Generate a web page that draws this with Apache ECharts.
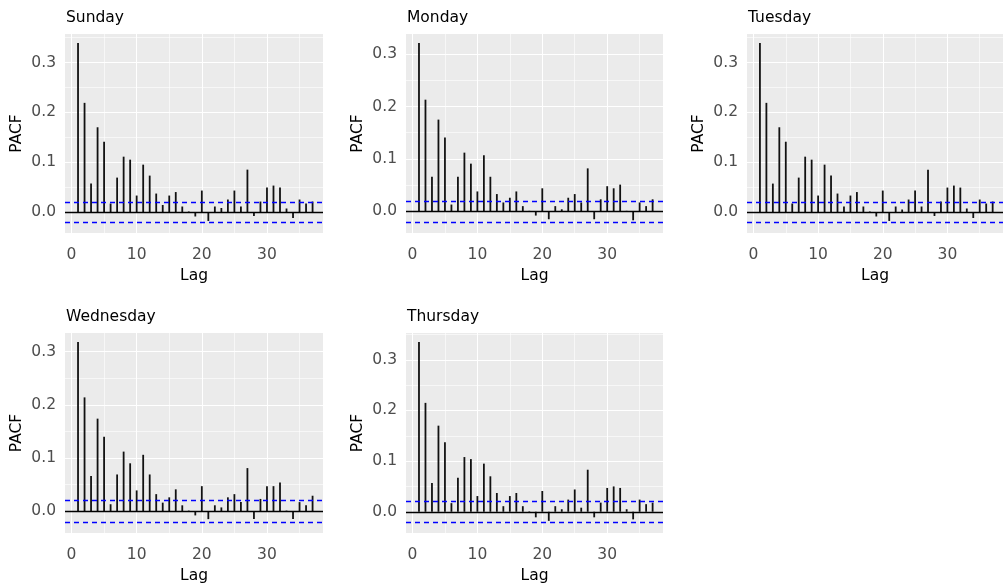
<!DOCTYPE html>
<html>
<head>
<meta charset="UTF-8">
<script type="text/javascript" src="https://cdn.jsdelivr.net/npm/echarts@6/dist/echarts.min.js"></script>
<title>PACF</title>
<style>
	body{margin:0;background:#fff;}
	#main{width:1004px;height:585px;}
</style>
</head>
<body>
<div id="main"></div>
<script type="text/javascript">
	var days = ['Sunday', 'Monday', 'Tuesday', 'Wednesday', 'Thursday'];
	var lags = [1,2,3,4,5,6,7,8,9,10,11,12,13,14,15,16,17,18,19,20,21,22,23,24,25,26,27,28,29,30,31,32,33,34,35,36,37];

	var sunday = [0.339,0.219,0.057,0.170,0.141,0.017,0.069,0.111,0.105,0.033,0.095,0.073,0.037,0.014,0.033,0.040,0.011,0.001,-0.009,0.043,
		-0.018,0.011,0.008,0.025,0.043,0.011,0.085,-0.008,0.021,0.049,0.053,0.049,0.007,-0.012,0.025,0.017,0.021];
	var monday = [0.321,0.213,0.066,0.175,0.141,0.013,0.066,0.112,0.091,0.038,0.107,0.066,0.033,0.017,0.026,0.038,0.010,0.001,-0.008,0.044,
		-0.015,0.010,0.004,0.026,0.033,0.017,0.082,-0.015,0.023,0.048,0.044,0.051,0.001,-0.017,0.017,0.010,0.023];
	var tuesday = [0.339,0.219,0.057,0.170,0.141,0.017,0.069,0.111,0.105,0.033,0.095,0.073,0.037,0.011,0.033,0.040,0.011,0.001,-0.009,0.043,
		-0.018,0.011,0.005,0.025,0.043,0.011,0.085,-0.008,0.021,0.049,0.053,0.049,0.007,-0.012,0.025,0.017,0.021];
	var wednesday = [0.318,0.214,0.066,0.174,0.140,0.013,0.069,0.112,0.090,0.039,0.106,0.069,0.032,0.016,0.026,0.041,0.011,0.001,-0.008,0.047,
		-0.015,0.011,0.007,0.026,0.032,0.017,0.081,-0.015,0.023,0.047,0.047,0.054,0.001,-0.015,0.017,0.011,0.029];
	var thursday = [0.335,0.215,0.057,0.170,0.137,0.017,0.067,0.108,0.104,0.031,0.095,0.070,0.037,0.011,0.031,0.037,0.011,0.001,-0.011,0.041,
		-0.018,0.011,0.005,0.024,0.044,0.008,0.083,-0.011,0.018,0.047,0.050,0.047,0.005,-0.015,0.024,0.015,0.018];

	var ciBound = 0.024;
	var xTicks = [0, 10, 20, 30];
	var xMinor = [5, 15, 25, 35];
	var yTicks = [0, 0.1, 0.2, 0.3];
	var yMinor = [0.05, 0.15, 0.25, 0.35];

	var allSeries = [sunday, monday, tuesday, wednesday, thursday];
	// left, top, width, height of each panel
	var panels = [[65,34,258,199],[406,34,257,199],[747,34,256,199],[65,333,258,200],[406,333,257,200]];
	var xMin = -1, xMax = 38.6;

	var font = 'DejaVu Sans';
	var fs = 15.5;
	var option = {
		animation: false,
		title: [],
		grid: [],
		xAxis: [],
		yAxis: [],
		series: []
	};

	for (var i = 0; i < days.length; i++) {
		var vals = allSeries[i];
		var p = panels[i];
		var lo = Math.min(Math.min.apply(null, vals), -ciBound);
		var hi = Math.max(Math.max.apply(null, vals), ciBound);
		var pad = (hi - lo) * 0.05;
		var yMin = lo - pad, yMax = hi + pad;

		option.title.push({
			text: days[i],
			left: p[0] + 1,
			top: p[1] - 24,
			padding: 0,
			textStyle: {fontFamily: font, fontSize: fs, fontWeight: 'normal', color: '#000'}
		});
		option.grid.push({
			left: p[0], top: p[1], width: p[2], height: p[3],
			show: true, backgroundColor: '#EBEBEB', borderWidth: 0
		});
		option.xAxis.push({
			type: 'value', gridIndex: i, min: xMin, max: xMax,
			name: 'Lag', nameLocation: 'middle', nameGap: 35,
			nameTextStyle: {fontFamily: font, fontSize: fs, color: '#000'},
			axisLine: {show: false},
			splitLine: {show: false},
			axisTick: {show: true, inside: false, length: 4, customValues: xTicks, lineStyle: {color: '#333333'}},
			axisLabel: {customValues: xTicks, margin: 14, fontFamily: font, fontSize: fs, color: '#4D4D4D'}
		});
		option.yAxis.push({
			type: 'value', gridIndex: i, min: yMin, max: yMax,
			name: 'PACF', nameLocation: 'middle', nameGap: 40,
			nameTextStyle: {fontFamily: font, fontSize: fs, color: '#000'},
			axisLine: {show: false},
			splitLine: {show: false},
			axisTick: {show: true, inside: false, length: 4, customValues: yTicks, lineStyle: {color: '#333333'}},
			axisLabel: {customValues: yTicks, margin: 9, fontFamily: font, fontSize: fs, color: '#4D4D4D',
				formatter: function (v) { return v.toFixed(1); }}
		});

		// background grid lines, kept under the bars
		var grid = [];
		yMinor.forEach(function (v) {
			if (v > yMin && v < yMax) grid.push({yAxis: v, lineStyle: {color: '#fff', width: 0.6, type: 'solid'}});
		});
		xMinor.forEach(function (v) {
			grid.push({xAxis: v, lineStyle: {color: '#fff', width: 0.6, type: 'solid'}});
		});
		yTicks.forEach(function (v) {
			grid.push({yAxis: v, lineStyle: {color: '#fff', width: 1.1, type: 'solid'}});
		});
		xTicks.forEach(function (v) {
			grid.push({xAxis: v, lineStyle: {color: '#fff', width: 1.1, type: 'solid'}});
		});
		option.series.push({
			type: 'line', xAxisIndex: i, yAxisIndex: i, data: [], z: 1, silent: true,
			markLine: {z: 1, silent: true, symbol: ['none', 'none'], label: {show: false}, animation: false, data: grid}
		});

		var data = [];
		for (var k = 0; k < lags.length; k++) data.push([lags[k], vals[k]]);
		option.series.push({
			type: 'bar', xAxisIndex: i, yAxisIndex: i, data: data, barWidth: 1.8, z: 3,
			itemStyle: {color: '#111'}, silent: true
		});

		option.series.push({
			type: 'line', xAxisIndex: i, yAxisIndex: i, data: [], z: 4, silent: true,
			markLine: {z: 6, silent: true, symbol: ['none', 'none'], label: {show: false}, animation: false, data: [
				{yAxis: 0, lineStyle: {color: '#000', width: 1.4, type: 'solid'}},
				{yAxis: ciBound, lineStyle: {color: '#0000FF', width: 1.3, type: [5, 4]}},
				{yAxis: -ciBound, lineStyle: {color: '#0000FF', width: 1.3, type: [5, 4]}}
			]}
		});
	}

	var myChart = echarts.init(document.getElementById('main'));
	myChart.setOption(option);
</script>
</body>
</html>
